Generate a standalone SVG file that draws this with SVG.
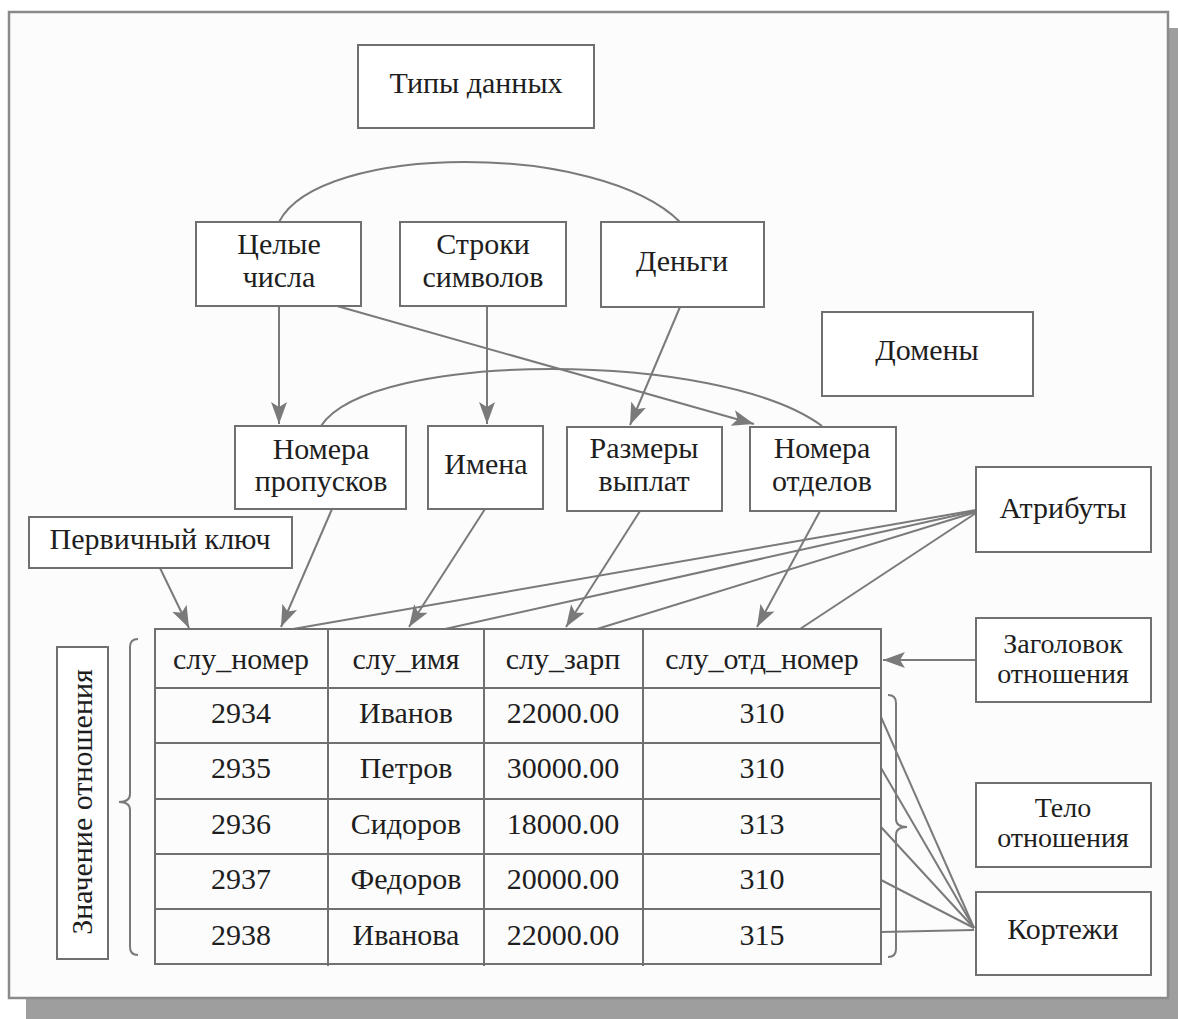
<svg xmlns="http://www.w3.org/2000/svg" width="1178" height="1019" viewBox="0 0 1178 1019" font-family="Liberation Serif, DejaVu Serif, serif">
<style>
.box{fill:#fff;stroke:#707070;stroke-width:2}
.t{font-family:"Liberation Serif", "DejaVu Serif", serif;font-size:30px;fill:#1e1e1e;text-anchor:middle}
.s{font-size:28px}
.ln{fill:none;stroke:#7a7a7a;stroke-width:2}
.ar{fill:none;stroke:#7a7a7a;stroke-width:2;marker-end:url(#ah)}
.grid{fill:none;stroke:#707070;stroke-width:2}
</style>
<defs>
<marker id="ah" markerUnits="userSpaceOnUse" markerWidth="24" markerHeight="18" refX="22" refY="9" orient="auto">
<path d="M0,1 L22,9 L0,17 L5,9 Z" fill="#7a7a7a"/>
</marker>
</defs>
<rect x="0" y="0" width="1178" height="1019" fill="#ffffff"/>
<rect x="26" y="28" width="1152" height="991" fill="#9e9e9e"/>
<rect x="9" y="12" width="1159" height="986" fill="#fcfcfc" stroke="#8a8a8a" stroke-width="2.5"/>

<g id="connectors">
<path class="ln" d="M279,222 C320,142 600,142 680,222"/>
<path class="ln" d="M321,426 C370,350 720,350 822,426"/>
<line class="ar" x1="279" y1="306" x2="279" y2="424"/>
<line class="ar" x1="337" y1="306" x2="754" y2="424"/>
<line class="ar" x1="487" y1="306" x2="487" y2="424"/>
<line class="ar" x1="680" y1="307" x2="630" y2="425"/>
<line class="ar" x1="332" y1="509" x2="281" y2="627"/>
<line class="ar" x1="485" y1="509" x2="409" y2="627"/>
<line class="ar" x1="640" y1="511" x2="566" y2="627"/>
<line class="ar" x1="820" y1="511" x2="757" y2="627"/>
<line class="ar" x1="160" y1="568" x2="189" y2="628"/>
<line class="ar" x1="976" y1="660" x2="883" y2="660"/>
<line class="ln" x1="976" y1="510" x2="293" y2="629"/>
<line class="ln" x1="976" y1="511" x2="445" y2="629"/>
<line class="ln" x1="976" y1="512" x2="597" y2="629"/>
<line class="ln" x1="976" y1="513" x2="800" y2="629"/>
<line class="ln" x1="881" y1="717" x2="974" y2="928"/>
<line class="ln" x1="881" y1="768" x2="974" y2="928"/>
<line class="ln" x1="881" y1="827" x2="974" y2="928"/>
<line class="ln" x1="881" y1="880" x2="974" y2="928"/>
<line class="ln" x1="881" y1="932" x2="974" y2="930" stroke-width="3.5"/>
<path class="ln" stroke-width="1.6" d="M138,639 q-8,0 -8,8 L130,794 q0,8 -11,8 q11,0 11,8 L130,947 q0,8 8,8"/>
<path class="ln" stroke-width="1.6" d="M888,695 q8,0 8,8 L896,819 q0,8 11,8 q-11,0 -11,8 L896,949 q0,8 -8,8"/>
</g>

<g id="n-types"><rect class="box" x="358" y="45" width="236" height="83"/><text class="t" x="476" y="93">Типы данных</text></g>
<g id="n-int"><rect class="box" x="196" y="222" width="165" height="84"/><text class="t" x="279" y="254">Целые</text><text class="t" x="279" y="287">числа</text></g>
<g id="n-str"><rect class="box" x="400" y="222" width="166" height="84"/><text class="t" x="483" y="254">Строки</text><text class="t" x="483" y="287">символов</text></g>
<g id="n-money"><rect class="box" x="601" y="222" width="163" height="85"/><text class="t" x="682" y="271">Деньги</text></g>
<g id="n-domains"><rect class="box" x="822" y="312" width="211" height="84"/><text class="t" x="927" y="360">Домены</text></g>
<g id="n-passnum"><rect class="box" x="235" y="426" width="171" height="83"/><text class="t" x="321" y="459">Номера</text><text class="t" x="321" y="491">пропусков</text></g>
<g id="n-names"><rect class="box" x="428" y="426" width="115" height="83"/><text class="t" x="486" y="474">Имена</text></g>
<g id="n-pay"><rect class="box" x="567" y="427" width="155" height="84"/><text class="t" x="644" y="458">Размеры</text><text class="t" x="644" y="491">выплат</text></g>
<g id="n-deptnum"><rect class="box" x="750" y="427" width="146" height="84"/><text class="t" x="822" y="458">Номера</text><text class="t" x="822" y="491">отделов</text></g>
<g id="n-attrs"><rect class="box" x="976" y="467" width="175" height="85"/><text class="t" x="1063" y="518">Атрибуты</text></g>
<g id="n-pk"><rect class="box" x="29" y="517" width="263" height="51"/><text class="t" x="160" y="549">Первичный ключ</text></g>
<g id="n-head"><rect class="box" x="976" y="618" width="175" height="84"/><text class="t s" x="1063" y="653">Заголовок</text><text class="t s" x="1063" y="683">отношения</text></g>
<g id="n-body"><rect class="box" x="976" y="783" width="175" height="84"/><text class="t s" x="1063" y="817">Тело</text><text class="t s" x="1063" y="847">отношения</text></g>
<g id="n-tuples"><rect class="box" x="976" y="892" width="175" height="83"/><text class="t" x="1063" y="939">Кортежи</text></g>
<g id="n-value"><rect class="box" x="57" y="647" width="51" height="312"/><text class="t" transform="translate(92,802) rotate(-90)" x="0" y="0">Значение отношения</text></g>

<g id="table">
<rect class="grid" x="155" y="629" width="726" height="335" fill="#fff"/>
<line class="grid" x1="328" y1="629" x2="328" y2="966"/>
<line class="grid" x1="484" y1="629" x2="484" y2="966"/>
<line class="grid" x1="643" y1="629" x2="643" y2="966"/>
<line class="grid" x1="155" y1="688" x2="881" y2="688"/>
<line class="grid" x1="155" y1="743" x2="881" y2="743"/>
<line class="grid" x1="155" y1="799" x2="881" y2="799"/>
<line class="grid" x1="155" y1="854" x2="881" y2="854"/>
<line class="grid" x1="155" y1="909" x2="881" y2="909"/>
<text class="t" x="241" y="669">слу_номер</text><text class="t" x="406" y="669">слу_имя</text><text class="t" x="563" y="669">слу_зарп</text><text class="t" x="762" y="669">слу_отд_номер</text>
<text class="t" x="241" y="723">2934</text><text class="t" x="406" y="723">Иванов</text><text class="t" x="563" y="723">22000.00</text><text class="t" x="762" y="723">310</text>
<text class="t" x="241" y="778">2935</text><text class="t" x="406" y="778">Петров</text><text class="t" x="563" y="778">30000.00</text><text class="t" x="762" y="778">310</text>
<text class="t" x="241" y="834">2936</text><text class="t" x="406" y="834">Сидоров</text><text class="t" x="563" y="834">18000.00</text><text class="t" x="762" y="834">313</text>
<text class="t" x="241" y="889">2937</text><text class="t" x="406" y="889">Федоров</text><text class="t" x="563" y="889">20000.00</text><text class="t" x="762" y="889">310</text>
<text class="t" x="241" y="945">2938</text><text class="t" x="406" y="945">Иванова</text><text class="t" x="563" y="945">22000.00</text><text class="t" x="762" y="945">315</text>
</g>
</svg>
